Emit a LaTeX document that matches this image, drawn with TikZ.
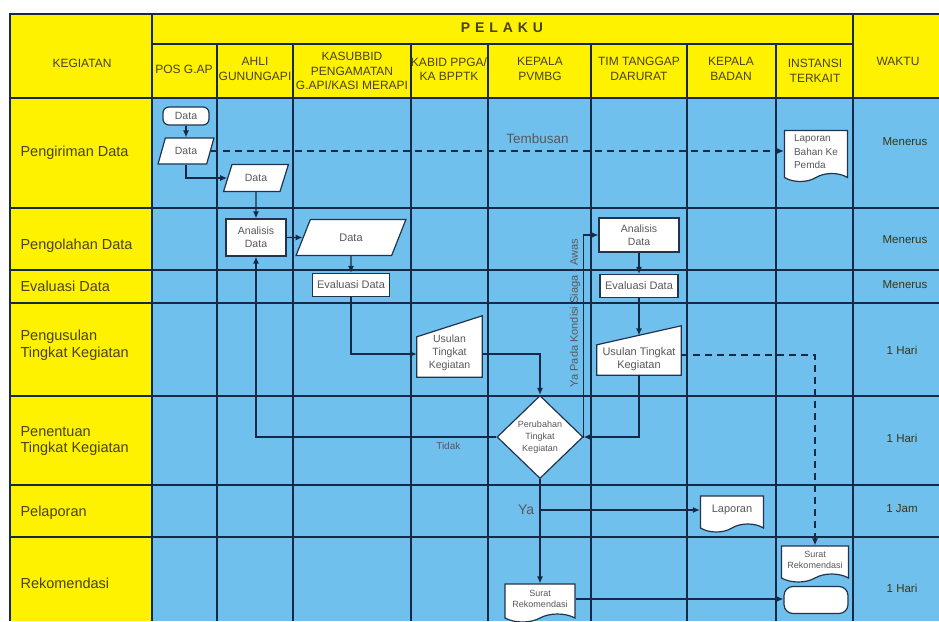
\documentclass[tikz,border=0pt]{standalone}
\usepackage{fontspec}
\setmainfont{Liberation Sans}
\usetikzlibrary{shapes.geometric,shapes.symbols,arrows.meta,calc,positioning}

\definecolor{hdyellow}{RGB}{255,242,0}
\definecolor{cellblue}{RGB}{112,192,237}
\definecolor{gridnavy}{RGB}{22,42,72}
\definecolor{hdtext}{RGB}{72,66,22}
\definecolor{celltext}{RGB}{88,88,92}

\tikzset{
  grid line/.style={draw=gridnavy, line width=1.4pt},
  hd/.style={text=hdtext, font=\fontsize{12}{14.5}\selectfont, align=center},
  rowlbl/.style={text=hdtext, font=\fontsize{14.5}{16.5}\selectfont, align=left, anchor=west},
  waktu/.style={text=hdtext!80!black, font=\fontsize{11.5}{14}\selectfont},
  shp/.style={draw=gridnavy!90!gray, line width=1.2pt, fill=white},
  txt/.style={text=celltext, font=\fontsize{10.5}{13}\selectfont, align=center},
  terminal/.style={shp, txt, rectangle, rounded corners=6pt, inner sep=0pt},
  io/.style={shp, txt, trapezium, trapezium left angle=62, trapezium right angle=118,
    trapezium stretches=true, inner sep=0pt},
  process/.style={shp, txt, rectangle, inner sep=0pt},
  decision/.style={shp, txt, diamond, inner sep=0pt},
  doc/.style={shp, txt, tape, tape bend top=none, tape bend bottom=in and out,
    tape bend height=8pt, inner sep=0pt},
  mbox/.style={inner sep=0pt, rectangle},
  flow/.style={draw=gridnavy, line width=1.1pt, -{Latex[length=7pt,width=6pt]}},
  dflow/.style={flow, dash pattern=on 7pt off 5pt},
  note/.style={text=celltext, font=\fontsize{10}{12}\selectfont},
}

\begin{document}
\begin{tikzpicture}[x=1pt,y=-1pt]
\useasboundingbox (0,0) rectangle (939,621);
\fill[white] (0,0) rectangle (939,621);
% cells
\fill[hdyellow] (10,14) rectangle (939,98);
\fill[hdyellow] (10,98) rectangle (152,621);
\fill[cellblue] (152,98) rectangle (939,621);
% grid
\draw[grid line] (10,621) -- (10,14) -- (939,14);
\draw[grid line] (152,44) -- (853,44);
\foreach \y in {98,208,270,303,396,485,537}
  \draw[grid line] (10,\y) -- (939,\y);
\foreach \x in {152,853}
  \draw[grid line] (\x,14) -- (\x,621);
\foreach \x in {217,293,411,488,591,687,776}
  \draw[grid line] (\x,44) -- (\x,621);

% header
\node[hd] (hkeg) at (82,63) {KEGIATAN};
\node[hd, font=\fontsize{14}{16}\selectfont\bfseries\addfontfeature{LetterSpace=35}] (hpel) at (502,28) {PELAKU};
\node[hd] (hpos) at (184,69) {POS G.AP};
\node[hd] (hahl) at (255,69) {AHLI\\GUNUNGAPI};
\node[hd] (hkas) at (352,71) {KASUBBID\\PENGAMATAN\\G.API/KASI MERAPI};
\node[hd] (hkab) at (449,69) {KABID PPGA/\\KA BPPTK};
\node[hd] (hkep) at (540,69) {KEPALA\\PVMBG};
\node[hd] (htim) at (639,69) {TIM TANGGAP\\DARURAT};
\node[hd] (hbad) at (731,69) {KEPALA\\BADAN};
\node[hd] (hins) at (815,71) {INSTANSI\\TERKAIT};
\node[hd] (hwak) at (898,61) {WAKTU};

% kegiatan
\node[rowlbl] (r1) at (17,153) {Pengiriman Data};
\node[rowlbl] (r2) at (17,246) {Pengolahan Data};
\node[rowlbl] (r3) at (17,286) {Evaluasi Data};
\node[rowlbl] (r4) at (17,345) {Pengusulan\\Tingkat Kegiatan};
\node[rowlbl] (r5) at (17,441) {Penentuan\\Tingkat Kegiatan};
\node[rowlbl] (r6) at (17,513) {Pelaporan};
\node[rowlbl] (r7) at (17,583) {Rekomendasi};

% waktu
\node[waktu] (w1) at (905,142) {Menerus};
\node[waktu] (w2) at (905,240) {Menerus};
\node[waktu] (w3) at (905,285) {Menerus};
\node[waktu] (w4) at (902,350) {1 Hari};
\node[waktu] (w5) at (902,438) {1 Hari};
\node[waktu] (w6) at (902,509) {1 Jam};
\node[waktu] (w7) at (902,588) {1 Hari};

% flow shapes
\node[terminal, minimum width=46, minimum height=18] (dat0) at (186,116) {Data};
\node[io, minimum width=56, minimum height=26] (dat1) at (186,151) {Data};
\node[io, minimum width=65, minimum height=27] (dat2) at (256,178) {Data};
\node[process, minimum width=60, minimum height=37] (anl1) at (256,237.5) {Analisis\\Data};
\node[io, minimum width=110, minimum height=36, font=\fontsize{11}{13}\selectfont] (dat3) at (351,237.5) {Data};
\node[process, minimum width=77, minimum height=23, font=\fontsize{11}{13}\selectfont] (eva1) at (351,285) {Evaluasi Data};

\node[mbox, minimum width=65, minimum height=61] (usl1) at (449.5,346.5) {};
\filldraw[shp] (usl1.south west) -- (usl1.south east) -- (usl1.north east)
  -- ($(usl1.north west)+(0,21)$) -- cycle;
\node[txt] (usl1txt) at ($(usl1.center)+(0,6.5)$) {Usulan\\Tingkat\\Kegiatan};

\node[decision, minimum width=86, minimum height=83, font=\fontsize{9}{12}\selectfont] (dec) at (540,437) {Perubahan\\Tingkat\\Kegiatan};

\node[process, minimum width=80, minimum height=34] (anl2) at (639,235) {Analisis\\Data};
\node[process, minimum width=78, minimum height=23, font=\fontsize{11}{13}\selectfont] (eva2) at (639,286) {Evaluasi Data};

\node[mbox, minimum width=84, minimum height=49] (usl2) at (639,350.5) {};
\filldraw[shp] (usl2.south west) -- (usl2.south east) -- (usl2.north east)
  -- ($(usl2.north west)+(0,19)$) -- cycle;
\node[txt, font=\fontsize{11}{13}\selectfont] (usl2txt) at ($(usl2.center)+(0,9)$) {Usulan Tingkat\\Kegiatan};
\coordinate (usl2top) at ($(usl2.north)+(0,9.5)$);

\node[doc, minimum width=63, minimum height=51, align=left, font=\fontsize{10}{13.5}\selectfont] (lap1) at (816,152) {Laporan\\Bahan Ke\\Pemda};
\node[doc, minimum width=63, minimum height=36, font=\fontsize{11}{13}\selectfont] (lap2) at (732,510) {Laporan};
\node[doc, minimum width=67, minimum height=36, font=\fontsize{9}{11}\selectfont] (srt1) at (815,560) {Surat\\Rekomendasi};
\node[terminal, minimum width=64, minimum height=27, rounded corners=9pt] (end1) at (816,600) {};
\node[doc, minimum width=70, minimum height=38, font=\fontsize{9}{11}\selectfont] (srt2) at (540,599) {Surat\\Rekomendasi};

% connectors
\draw[flow] (dat0) -- (dat1);
\draw[flow] (dat1.south) |- (dat2.west);
\draw[flow] (dat2) -- (anl1);
\draw[flow] (anl1) -- (dat3);
\draw[flow] (dat3) -- (eva1);
\draw[flow] (eva1.south) |- ($(usl1.west)+(0,7.5)$);
\draw[flow] ($(usl1.east)+(0,7.5)$) -| (dec.north);
\draw[flow] (dec.west) -| (anl1.south) node[note, pos=0.1, below=1pt] {Tidak};
\draw[flow] (dec.east) -| ($(anl2.west)+(-15,0)$) -- (anl2.west);
\node[note, rotate=90, font=\fontsize{11}{13}\selectfont] (siaga) at (575,313) {Ya Pada Kondisi Siaga - Awas};
\draw[flow] (anl2) -- (eva2);
\draw[flow] (eva2) -- (usl2top);
\draw[flow] (usl2.south) |- (dec.east);
\draw[dflow] ($(usl2.east)+(0,4.5)$) -| (srt1.north);
\draw[dflow] (dat1.east) -- (dat1.east -| lap1.west)
  node[note, pos=0.57, above=3pt, font=\fontsize{13.5}{15}\selectfont] {Tembusan};
\draw[flow] (dec.south) -- (srt2.north);
\draw[flow] (dec.south |- lap2.west) node[note, left=2pt, font=\fontsize{14}{16}\selectfont] {Ya} -- (lap2.west);
\draw[flow] (srt2.east) -- (srt2.east -| end1.west);
\end{tikzpicture}
\end{document}
